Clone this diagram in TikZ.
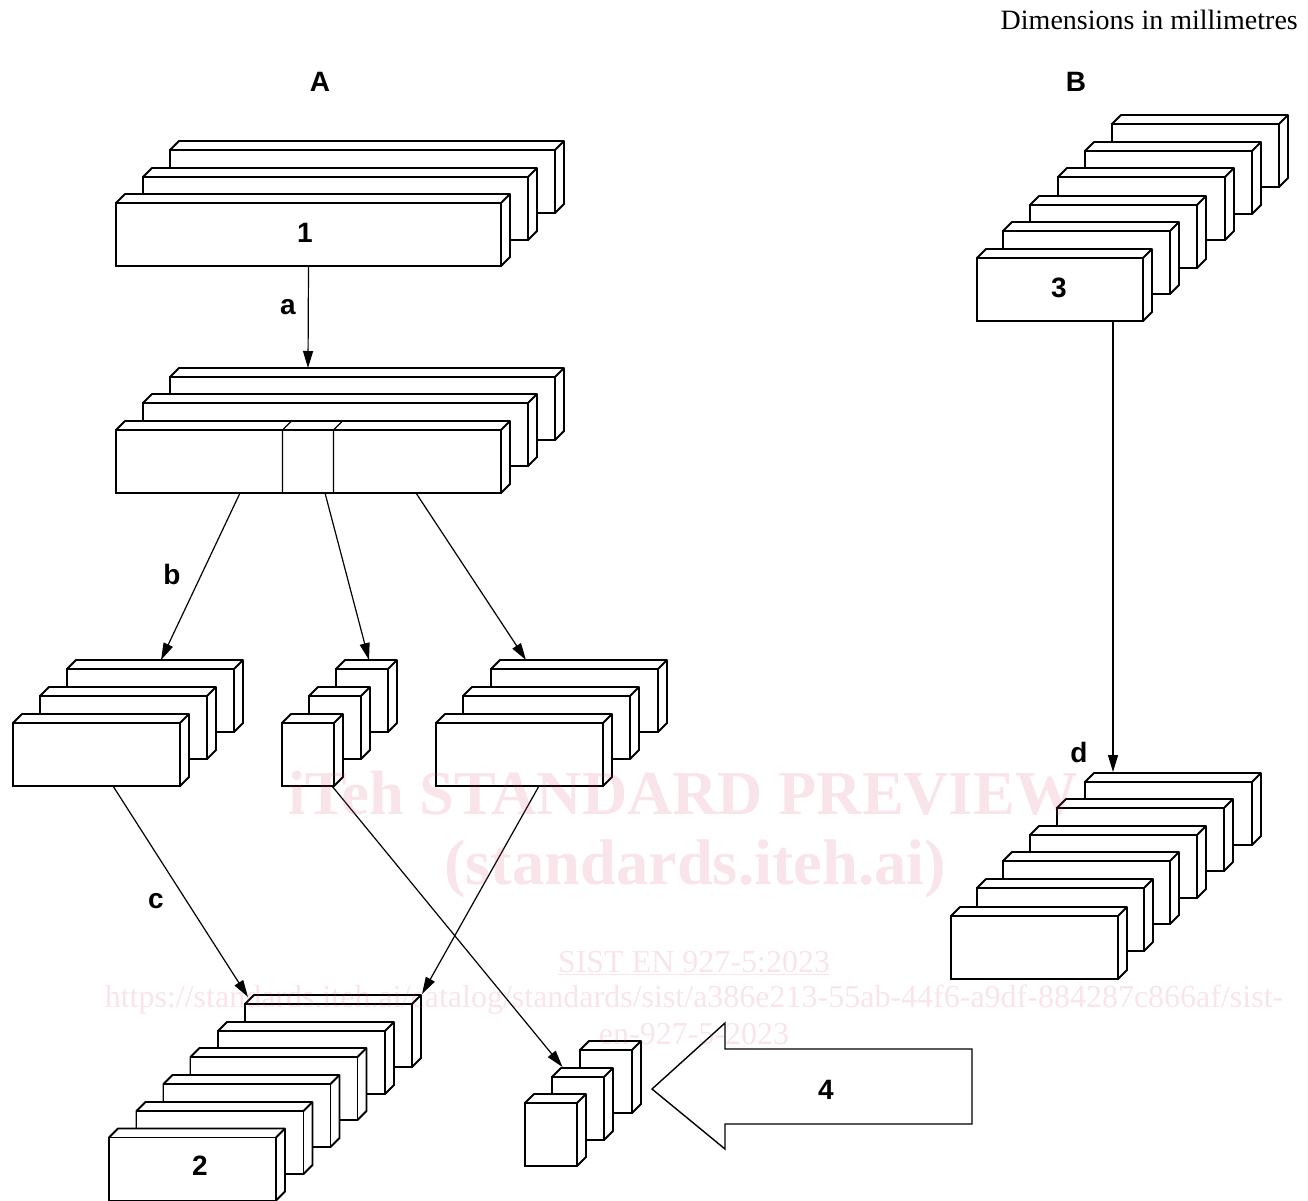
\documentclass[tikz,border=0pt]{standalone}
\usepackage{fontspec}
\setmainfont{Liberation Serif}
\setsansfont{Liberation Sans}
\usetikzlibrary{arrows.meta}

\definecolor{wmpink}{RGB}{215,75,115}

% name, left, top, width
\newcommand{\slab}[4]{
    \draw[face] (#2,#3) -- ++(9,-9) -- ++(#4,0) -- ++(0,63) -- ++(-9,9) -- ++(-#4,0) -- cycle;
    \draw[face] (#2+#4,#3) -- ++(9,-9);
    \node[box, minimum width=#4pt] (#1) at (#2+#4/2,#3+31.5) {};
}

\begin{document}
\begin{tikzpicture}[
    x=1pt, y=-1pt,
    face/.style={draw=black, line width=1.9pt, fill=white, line join=round},
    box/.style={rectangle, draw=black, line width=1.9pt, fill=white, minimum height=63pt, inner sep=0pt, outer sep=0pt},
    link/.style={draw=black, line width=1.2pt, -{Triangle[length=17pt,width=10pt]}},
    tag/.style={font=\fontsize{28}{28}\selectfont\sffamily\bfseries, inner sep=0pt},
    wmark/.style={text=wmpink, text opacity=0.15, inner sep=0pt}
]
    \useasboundingbox (0,0) rectangle (1308,1200);

    % Header
    \node[anchor=east, inner sep=0pt, font=\fontsize{28}{28}\selectfont] (dims) at (1298,20) {Dimensions in millimetres};
    \node[tag] (lA) at (320,82) {A};
    \node[tag] (lB) at (1076,82) {B};

    % Stack 1
    \slab{raw3}{170}{150}{385}
    \slab{raw2}{143}{177}{385}
    \slab{raw1}{116}{203}{385}
    \node[tag] (n1) at (305,233) {1};

    % Stack with cut
    \slab{cut3}{170}{377}{385}
    \slab{cut2}{143}{403}{385}
    \slab{cut1}{116}{430}{385}
    \draw[black, line width=1.1pt] (282.5,493) -- (282.5,430) -- ++(9,-9);
    \draw[black, line width=1.1pt] (333.5,493) -- (333.5,430) -- ++(9,-9);

    % Cut pieces
    \slab{pl3}{67}{669}{167}
    \slab{pl2}{40}{696}{167}
    \slab{pl1}{13}{723}{167}
    \slab{pm3}{336}{669}{52}
    \slab{pm2}{309}{696}{52}
    \slab{pm1}{282}{723}{52}
    \slab{pr3}{491}{669}{167}
    \slab{pr2}{463}{696}{167}
    \slab{pr1}{436}{723}{167}

    % Stack 2
    \slab{fin6}{245}{1004}{167}
    \slab{fin5}{218}{1031}{167}
    \slab{fin4}{190.5}{1057}{167}
    \slab{fin3}{163.5}{1084}{167}
    \slab{fin2}{136.5}{1111}{167}
    \slab{fin1}{109}{1137.5}{167}
    \node[tag] (n2) at (200,1166) {2};

    % Small stack
    \slab{sm3}{580}{1050}{52}
    \slab{sm2}{552}{1077}{52}
    \slab{sm1}{525}{1103}{52}

    % Stack 3
    \slab{bl6}{1112}{124}{167}
    \slab{bl5}{1085}{151}{167}
    \slab{bl4}{1058}{177}{167}
    \slab{bl3}{1030}{205}{167}
    \slab{bl2}{1003}{231}{167}
    \slab{bl1}{977}{258}{166}
    \node[tag] (n3) at (1059,288) {3};

    % Lower stack
    \slab{bd6}{1085}{782}{167}
    \slab{bd5}{1057}{808}{167}
    \slab{bd4}{1030}{835}{167}
    \slab{bd3}{1003}{861}{167}
    \slab{bd2}{977}{888}{167}
    \slab{bd1}{951}{916}{167}

    % Force arrow
    \draw[black, line width=1.4pt, fill=white, line join=miter] (652,1089) -- (725,1023) -- (725,1049) -- (972,1049) -- (972,1124) -- (725,1124) -- (725,1149) -- cycle;
    \node[tag] (n4) at (826,1090) {4};

    % Connections
    \draw[link] (raw1.south) -- ([xshift=-54.5pt,yshift=9pt]cut3.north);
    \draw[link] ([xshift=-68.5pt]cut1.south) -- ([xshift=10.5pt,yshift=9pt]pl3.north);
    \draw[link] ([xshift=16.5pt]cut1.south) -- ([xshift=7pt,yshift=9pt]pm3.north);
    \draw[link] ([xshift=107.5pt]cut1.south) -- ([xshift=-48.5pt,yshift=9pt]pr3.north);
    \draw[link] ([xshift=16.5pt]pl1.south) -- ([xshift=-80.5pt,yshift=7pt]fin6.north);
    \draw[link] ([xshift=24pt]pm1.south) -- ([xshift=-15.5pt,yshift=10pt]sm2.north);
    \draw[link] ([xshift=19.5pt]pr1.south) -- ([xshift=93.5pt,yshift=10pt]fin6.north);
    \draw[link] ([xshift=53pt]bl1.south) -- ([xshift=-55.5pt,yshift=10pt]bd6.north);

    \node[tag] (la) at (288,307) {a};
    \node[tag] (lb) at (172,574) {b};
    \node[tag] (lc) at (156,901) {c};
    \node[tag] (ld) at (1079,752) {d};

    % Preview marks
    \node[wmark, font=\fontsize{62.6}{62}\selectfont\bfseries] (wm1) at (683,793) {iTeh STANDARD PREVIEW};
    \node[wmark, font=\fontsize{64.5}{64}\selectfont\bfseries] (wm2) at (695,869) {(standards.iteh.ai)};
    \node[wmark, font=\fontsize{32}{32}\selectfont] (wm3) at (694,963) {\underline{SIST EN 927-5:2023}};
    \node[wmark, font=\fontsize{32}{32}\selectfont] (wm4) at (694,1000) {https://standards.iteh.ai/catalog/standards/sist/a386e213-55ab-44f6-a9df-884287c866af/sist-};
    \node[wmark, font=\fontsize{32}{32}\selectfont] (wm5) at (694,1034) {en-927-5-2023};
\end{tikzpicture}
\end{document}
